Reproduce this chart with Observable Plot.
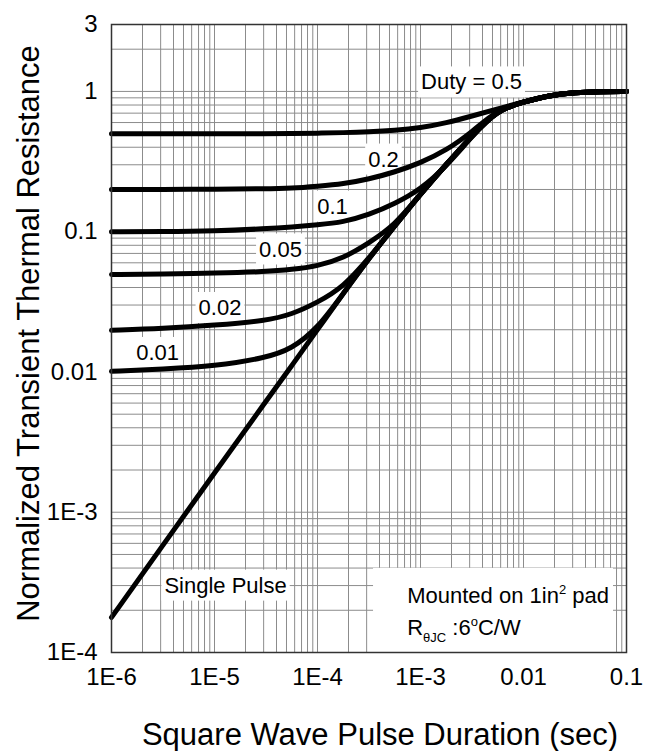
<!DOCTYPE html>
<html><head><meta charset="utf-8">
<script src="https://cdn.jsdelivr.net/npm/d3@7"></script>
<script src="https://cdn.jsdelivr.net/npm/@observablehq/plot@0.6"></script>
<style>html,body{margin:0;background:#fff}svg{display:block}</style>
</head><body><div id="chart"></div>
<script>
// ---- data ----
const pulseDuration = [1e-6, 3.16e-6, 1e-5, 3.16e-5, 5.62e-5, 1e-4, 1.78e-4, 3.16e-4, 5.62e-4, 1e-3, 1.78e-3, 3.16e-3, 5.62e-3, 0.01, 0.0178, 0.0316, 0.0562, 0.1];
const zDuty050 = [0.500, 0.500, 0.500, 0.500, 0.501, 0.504, 0.508, 0.515, 0.527, 0.550, 0.596, 0.668, 0.750, 0.841, 0.938, 0.986, 0.998, 1.0];
const zDuty020 = [0.200, 0.200, 0.201, 0.202, 0.204, 0.211, 0.219, 0.237, 0.266, 0.309, 0.380, 0.513, 0.745, 0.841, 0.938, 0.986, 0.998, 1.0];
const zDuty010 = [0.100, 0.100, 0.101, 0.105, 0.108, 0.112, 0.117, 0.132, 0.158, 0.200, 0.292, 0.479, 0.741, 0.841, 0.938, 0.986, 0.998, 1.0];
const zDuty005 = [0.0495, 0.0498, 0.0506, 0.0519, 0.0537, 0.0569, 0.0646, 0.0832, 0.111, 0.186, 0.302, 0.484, 0.741, 0.841, 0.938, 0.986, 0.998, 1.0];
const zDuty002 = [0.0198, 0.0204, 0.0215, 0.0232, 0.0257, 0.0313, 0.0403, 0.0646, 0.110, 0.186, 0.302, 0.484, 0.741, 0.841, 0.938, 0.986, 0.998, 1.0];
const zDuty001 = [0.0101, 0.0105, 0.0110, 0.0126, 0.0146, 0.0204, 0.0363, 0.0646, 0.110, 0.186, 0.302, 0.484, 0.741, 0.841, 0.938, 0.986, 0.998, 1.0];
const zSingle  = [1.78e-4, 5.82e-4, 1.91e-3, 6.17e-3, 0.0111, 0.0200, 0.0363, 0.0646, 0.110, 0.186, 0.302, 0.484, 0.741, 0.841, 0.938, 0.986, 0.998, 1.0];

const seriesNames = ["0.5", "0.2", "0.1", "0.05", "0.02", "0.01", "single"];
const seriesValues = [zDuty050, zDuty020, zDuty010, zDuty005, zDuty002, zDuty001, zSingle];

const curveLabels = ["Duty = 0.5", "0.2", "0.1", "0.05", "0.02", "0.01", "Single Pulse"];
const curveLabelTime = [3.13e-3, 4.37e-4, 1.4e-4, 4.37e-5, 1.13e-5, 2.8e-6, 1.28e-5];
const curveLabelZ = [1.16, 0.327, 0.151, 0.0747, 0.0286, 0.01367, 3.0e-4];

const xTicks = [1e-6, 1e-5, 1e-4, 1e-3, 0.01, 0.1];
const xTickLabels = ["1E-6", "1E-5", "1E-4", "1E-3", "0.01", "0.1"];
const yTicks = [1e-4, 1e-3, 0.01, 0.1, 1, 3];
const yTickLabels = ["1E-4", "1E-3", "0.01", "0.1", "1", "3"];

const noteParts = [
  [["Mounted on 1in", ""], ["2", "sup"], [" pad", ""]],
  [["R", ""], ["\u03B8JC", "sub"], [" :6", ""], ["o", "sup"], ["C/W", ""]]
];
const noteTime = [7.43e-4, 7.43e-4];
const noteZ = [2.55e-4, 1.49e-4];
const noteBoxTime = [3.5e-4, 0.0748];
const noteBoxZ = [1e-4, 3.98e-4];

const xTitle = "Square Wave Pulse Duration (sec)";
const yTitle = "Normalized Transient Thermal Resistance";

// ---- derived tables ----
const rows = seriesNames.flatMap((name, s) => pulseDuration.map((t, i) => ({series: name, t, z: seriesValues[s][i]})));
const labelRows = curveLabels.map((label, i) => ({label, t: curveLabelTime[i], z: curveLabelZ[i]}));
const noteStrings = noteParts.map(p => p.map(d => d[0]).join(""));
const noteRows = noteStrings.map((text, i) => ({text, t: noteTime[i], z: noteZ[i]}));
const yTickRows = yTicks.map((v, i) => ({v, label: yTickLabels[i]}));

const xGrid = [];
for (let e = -6; e <= -2; e++) for (let k = 1; k <= 9; k++) xGrid.push(k * Math.pow(10, e));
xGrid.push(0.1);
const yGrid = [];
for (let e = -4; e <= -1; e++) for (let k = 1; k <= 9; k++) yGrid.push(k * Math.pow(10, e));
yGrid.push(1, 2, 3);

const font = "'Liberation Sans', Arial, Helvetica, sans-serif";

const chart = Plot.plot({
  width: 658,
  height: 751,
  marginLeft: 111,
  marginRight: 32,
  marginTop: 24,
  marginBottom: 99,
  style: {fontFamily: font, fontSize: "24px", color: "#000", background: "#fff"},
  x: {type: "log", domain: [1e-6, 0.1], axis: null},
  y: {type: "log", domain: [1e-4, 3], axis: null},
  marks: [
    Plot.ruleX(xGrid, {stroke: "#8c8c8c", strokeWidth: 1}),
    Plot.ruleY(yGrid, {stroke: "#8c8c8c", strokeWidth: 1}),
    Plot.rect([{}], {x1: () => noteBoxTime[0], x2: () => noteBoxTime[1], y1: () => noteBoxZ[0], y2: () => noteBoxZ[1], fill: "white"}),
    Plot.text(labelRows, {x: "t", y: "z", text: "label", fontSize: 22, textAnchor: "middle", lineAnchor: "middle", fill: "#000"}),
    Plot.line(rows, {x: "t", y: "z", z: "series", stroke: "#000", strokeWidth: 5, curve: "basis", strokeLinejoin: "round"}),
    Plot.frame({stroke: "#333", strokeWidth: 1.5}),
    Plot.text(noteRows, {x: "t", y: "z", text: "text", fontSize: 22, textAnchor: "start", lineAnchor: "middle", fill: "#000"}),
    Plot.axisX({ticks: xTicks, tickFormat: d => xTickLabels[xTicks.indexOf(d)], tickSize: 0, tickPadding: 15, label: null, fontSize: 24}),
    Plot.text(yTickRows, {y: "v", text: "label", frameAnchor: "left", dx: -14, textAnchor: "end", lineAnchor: "middle", fontSize: 24, fill: "#000"}),
    Plot.text([xTitle], {text: d => d, frameAnchor: "bottom", dy: 83, dx: 11, fontSize: 31, textAnchor: "middle", lineAnchor: "middle", fill: "#000"}),
    Plot.text([yTitle], {text: d => d, frameAnchor: "left", rotate: -90, dx: -82, dy: -5, fontSize: 31, textAnchor: "middle", lineAnchor: "middle", fill: "#000"})
  ]
});
document.getElementById("chart").appendChild(chart);

const SVGNS = "http://www.w3.org/2000/svg";
Array.from(chart.querySelectorAll("text")).forEach(el => {
  const s = el.textContent;
  if (curveLabels.indexOf(s) >= 0) {
    const bb = el.getBBox();
    const pad = 3;
    const r = document.createElementNS(SVGNS, "rect");
    r.setAttribute("x", bb.x - pad);
    r.setAttribute("y", bb.y - pad);
    r.setAttribute("width", bb.width + 2 * pad);
    r.setAttribute("height", bb.height + 2 * pad);
    r.setAttribute("fill", "white");
    r.setAttribute("stroke", "none");
    const tr = el.getAttribute("transform");
    if (tr) r.setAttribute("transform", tr);
    el.parentNode.insertBefore(r, el);
  }
  const ni = noteStrings.indexOf(s);
  if (ni >= 0) {
    while (el.firstChild) el.removeChild(el.firstChild);
    let shift = 0;
    noteParts[ni].forEach(([part, kind]) => {
      const target = kind === "sup" ? -9 : kind === "sub" ? 7 : 0;
      const ts = document.createElementNS(SVGNS, "tspan");
      ts.setAttribute("dy", String(target - shift));
      if (kind) ts.setAttribute("font-size", "13");
      ts.textContent = part;
      el.appendChild(ts);
      shift = target;
    });
  }
});
</script></body></html>
